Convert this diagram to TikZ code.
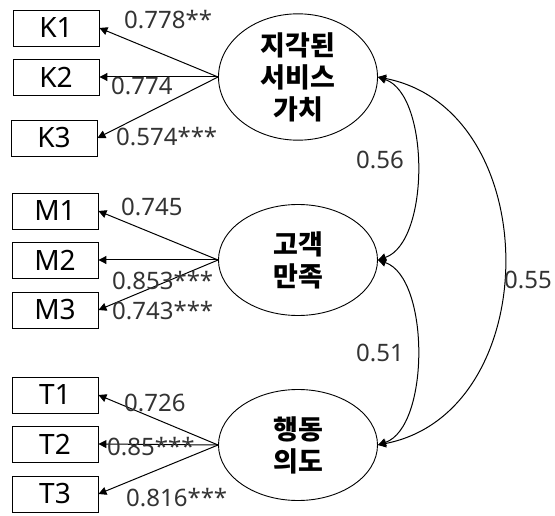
\documentclass[tikz,border=0pt]{standalone}
\usepackage{fontspec}
\setmainfont{Noto Sans}
\newfontfamily\kor{Noto Sans CJK KR}
\usetikzlibrary{arrows.meta,shapes.geometric}
\tikzset{
  obs/.style={draw, line width=0.9pt, minimum width=86pt, minimum height=36pt, inner sep=0pt, font=\fontsize{28}{30}\selectfont},
  lat/.style={draw, line width=0.9pt, ellipse, minimum width=159pt, minimum height=111pt, inner sep=0pt, align=center, font=\kor\bfseries\fontsize{27}{32}\selectfont},
  load/.style={line width=1pt, -{Triangle[length=8pt,width=8pt]}},
  cov/.style={line width=1pt, {Triangle[length=8pt,width=8pt]}-{Triangle[length=8pt,width=8pt]}},
  num/.style={inner sep=0pt, anchor=west, font=\fontsize{24}{26}\selectfont, text=black!80}
}
\begin{document}
\begin{tikzpicture}[x=1pt,y=1pt]
\useasboundingbox (0,0) rectangle (555,-516);
% observed
\node[obs] (K1) at (56,-28) {K1};
\node[obs] (K2) at (56,-77) {K2};
\node[obs] (K3) at (54,-138) {K3};
\node[obs] (M1) at (55,-211) {M1};
\node[obs] (M2) at (55,-260) {M2};
\node[obs] (M3) at (55,-310) {M3};
\node[obs] (T1) at (55,-395) {T1};
\node[obs] (T2) at (55,-444) {T2};
\node[obs] (T3) at (55,-494) {T3};
% latent
\node[lat] (E1) at (298,-77) {지각된\\서비스\\가치};
\node[lat] (E2) at (298,-260) {고객\\만족};
\node[lat] (E3) at (298,-445) {행동\\의도};
% loadings
\draw[load] (E1.west) -- (K1.east);
\draw[load] (E1.west) -- (K2.east);
\draw[load] (E1.west) -- (K3.east);
\draw[load] (E2.west) -- (M1.east);
\draw[load] (E2.west) -- (M2.east);
\draw[load] (E2.west) -- (M3.east);
\draw[load] (E3.west) -- (T1.east);
\draw[load] (E3.west) -- (T2.east);
\draw[load] (E3.west) -- (T3.east);
% loading labels
\node[num] (l1) at (124,-20) {0.778**};
\node[num] (l2) at (111,-86) {0.774};
\node[num] (l3) at (116,-137) {0.574***};
\node[num] (l4) at (121,-207) {0.745};
\node[num] (l5) at (112,-281) {0.853***};
\node[num] (l6) at (112,-311) {0.743***};
\node[num] (l7) at (124,-403) {0.726};
\node[num] (l8) at (107,-447) {0.85***};
\node[num] (l9) at (126,-498) {0.816***};
% covariances
\draw[cov] (E1.east) .. controls (430,-95) and (430,-242) .. (E2.east);
\draw[cov] (E2.east) .. controls (430,-278) and (430,-427) .. (E3.east);
\draw[cov] (E1.east) .. controls (546,-110) and (546,-412) .. (E3.east);
\node[num] (c1) at (356,-160) {0.56};
\node[num] (c2) at (356,-353) {0.51};
\node[num] (c3) at (504,-280) {0.55};
\end{tikzpicture}
\end{document}
